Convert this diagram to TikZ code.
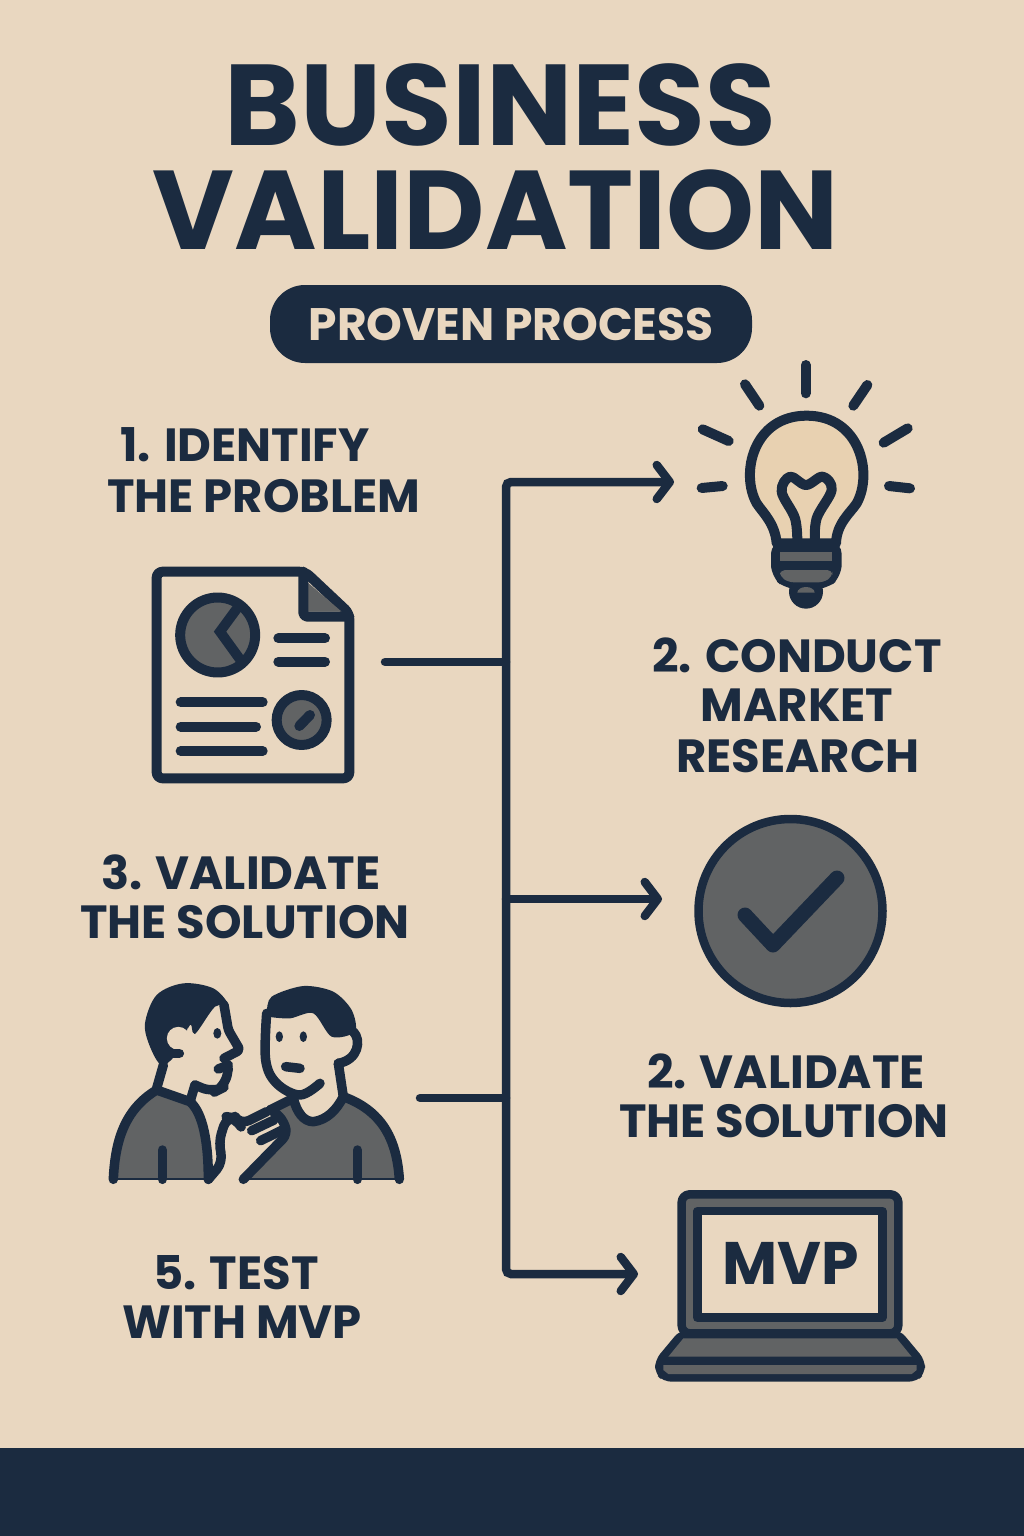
\documentclass[tikz,border=0pt]{standalone}
\usepackage{fontspec}
\setmainfont{Poppins}
\usetikzlibrary{arrows.meta}
\definecolor{paper}{HTML}{E9D7C0}
\definecolor{ink}{HTML}{1B2B40}
\definecolor{slate}{HTML}{616364}
\definecolor{glow}{HTML}{E8D1B1}
\tikzset{
  flow/.style={draw=ink,line width=8.5pt,rounded corners=5pt},
  branch/.style={draw=ink,line width=8.5pt,line cap=round},
  tipped/.style={-{Straight Barb[length=13pt,width=34pt,line width=8.5pt,round]}},
  iconbox/.style={inner sep=0pt,outer sep=0pt,draw=none,fill=none},
  lbl/.style={text=ink,inner sep=0pt,font=\fontsize{46.5}{46.5}\selectfont\bfseries},
  ttl/.style={text=ink,inner sep=0pt,font=\fontsize{115}{115}\selectfont\bfseries},
  ic/.style={draw=ink,line width=10pt,line cap=round,line join=round},
  thin/.style={draw=ink,line width=9.5pt,line cap=round,line join=round},
  frameline/.style={draw=ink,line width=8.5pt,line join=round},
  zoomed/.style={x=0.33333pt,y=-0.33333pt}
}
\begin{document}
\begin{tikzpicture}[x=1pt,y=-1pt]
\useasboundingbox (0,0) rectangle (1024,1536);
\fill[paper] (0,0) rectangle (1024,1536);
\fill[ink] (0,1448) rectangle (1024,1536);

% title
\node[ttl] (title1) at (500.5,105) {BUSINESS};
\node[ttl,font=\fontsize{112}{112}\selectfont\bfseries] (title2) at (496,210) {VALIDATION};
\node[fill=ink,rounded corners=35pt,minimum width=482pt,minimum height=78pt,inner sep=0pt,text=paper,font=\fontsize{45.5}{45.5}\selectfont\bfseries] (pill) at (511,324) {PROVEN PROCESS};

% labels
\node[lbl] (l1a) at (245,445) {1. IDENTIFY};
\node[lbl] (l1b) at (264,496) {THE PROBLEM};
\node[lbl] (l2a) at (797,655) {2. CONDUCT};
\node[lbl] (l2b) at (797,705) {MARKET};
\node[lbl] (l2c) at (798,756) {RESEARCH};
\node[lbl] (l3a) at (241,872) {3. VALIDATE};
\node[lbl] (l3b) at (245,922) {THE SOLUTION};
\node[lbl] (l4a) at (786,1071) {2. VALIDATE};
\node[lbl] (l4b) at (784,1121) {THE SOLUTION};
\node[lbl] (l5a) at (236,1273) {5. TEST};
\node[lbl] (l5b) at (242,1322) {WITH MVP};

% invisible icon frames that the connectors attach to
\node[iconbox,minimum width=266pt,minimum height=250pt] (bulb) at (807,482) {};
\node[iconbox,minimum width=255pt,minimum height=224pt] (doc) at (257.5,662) {};
\node[iconbox,minimum width=256pt,minimum height=200pt] (check) at (790,899) {};
\node[iconbox,minimum width=320pt,minimum height=200pt] (people) at (260,1098) {};
\node[iconbox,minimum width=304pt,minimum height=200pt] (laptop) at (790,1274) {};
\coordinate (trunk) at (506,899);

% connectors
\draw[flow,tipped] (trunk) |- (bulb.west);
\draw[flow,tipped] (trunk) |- (laptop.west);
\draw[branch,tipped] (trunk) -- (check.west);
\draw[branch] (doc.east) -- (doc.east -| trunk);
\draw[branch] (people.east) -- (people.east -| trunk);

% document icon
\begin{scope}[shift={(130,550)},zoomed]
  \draw[ic,rounded corners=6pt] (525,65) -- (80,65) -- (80,685) -- (658,685) -- (658,190) -- cycle;
  \fill[slate] (530,95) -- (530,185) -- (635,185) -- cycle;
  \draw[ic,rounded corners=4pt] (520,65) -- (520,200) -- (658,200);
  \filldraw[ic,fill=slate] (263,255) circle[radius=37.5pt];
  \draw[ic,line cap=butt,line join=miter] (325,170) -- (270,245) -- (335,335);
  \draw[ic] (445,265) -- (585,265);
  \draw[ic] (445,335) -- (585,335);
  \draw[ic] (152,457) -- (398,457);
  \draw[ic] (152,530) -- (378,530);
  \draw[ic] (152,603) -- (398,603);
  \filldraw[ic,fill=slate] (515,510) circle[radius=25pt];
  \draw[ic] (508,528) -- (540,495);
\end{scope}

% bulb icon
\begin{scope}[shift={(680,350)},zoomed]
  \foreach \xa/\ya/\xb/\yb in {377/45/377/130,195/103/238/167,562/105/520/167,68/238/146/273,683/235/611/278,65/414/128/408,627/408/690/415}
    \draw[ic] (\xa,\ya) -- (\xb,\yb);
  \filldraw[ic,fill=glow] (290,580) .. controls (285,520) and (250,490) .. (230,460)
     .. controls (180,370) and (220,197) .. (380,197)
     .. controls (540,197) and (580,370) .. (530,460)
     .. controls (510,490) and (470,520) .. (468,580) -- cycle;
  \draw[ic] plot[smooth,tension=0.6] coordinates {(352,580) (345,505) (305,425) (330,380) (378,405) (428,380) (455,420) (410,505) (405,580)};
  \fill[ink] (378,725) circle[radius=17pt];
  \fill[ink,rounded corners=12pt] (273,575) -- (485,575) -- (485,680) -- (440,718) -- (318,718) -- (273,680) -- cycle;
  \fill[slate] (300,605) rectangle (457,632);
  \fill[slate,rounded corners=5pt] (300,660) -- (457,660) -- (457,680) -- (430,697) -- (327,697) -- (300,680) -- cycle;
  \fill[slate] (352,728) arc[start angle=180,end angle=360,x radius=26,y radius=17] -- cycle;
\end{scope}

% check icon
\filldraw[frameline,fill=slate] (790.5,911) circle[radius=92pt];
\draw[ink,line width=15pt,line cap=round,line join=round] (745,915) -- (773,945) -- (837,878);

% people icon
\begin{scope}[shift={(100,970)},zoomed]
  % left person
  \fill[slate] (40,628) .. controls (45,520) and (70,420) .. (170,360) -- (270,395) .. controls (310,430) and (325,520) .. (325,628) -- cycle;
  \draw[thin] (40,628) .. controls (45,520) and (70,420) .. (170,360) -- (270,395) .. controls (310,430) and (325,520) .. (325,628);
  \draw[ink,line width=2pt] (40,628) -- (325,628);
  \draw[thin] (187,540) -- (187,628);
  \draw[thin] (190,285) -- (170,355);
  \draw[thin] (285,345) -- (270,395);
  \draw[thin,rounded corners=3pt] (372,105) -- (385,180) -- (420,240) -- (372,265);
  \draw[thin,rounded corners=5pt] (355,297) -- (385,285);
  \draw[thin,rounded corners=12pt] (385,295) -- (375,350) -- (340,368) -- (285,345);
  \fill[ink] plot[smooth cycle,tension=0.55] coordinates {(385,105) (340,55) (250,40) (170,75) (135,160) (150,230) (185,285) (230,250) (270,165) (285,192) (345,110)};
  \fill[paper] (235,205) circle[radius=11.5pt];
  \fill[paper] (262,215) -- (262,175) -- (300,205) -- (280,250) -- cycle;
  \draw[thin] (215,250) -- (238,250);
  \fill[ink] (352,190) ellipse[x radius=12,y radius=16];
  % right person
  \fill[slate] (430,628) -- (560,495) -- (540,435) -- (510,420) -- (580,385) .. controls (590,425) and (610,455) .. (640,455) .. controls (680,450) and (710,420) .. (730,380)
     .. controls (840,420) and (890,500) .. (898,628) -- cycle;
  \draw[thin,rounded corners=8pt] (430,628) -- (565,490) -- (540,435) -- (510,420);
  \draw[thin] (510,420) -- (580,385) .. controls (590,425) and (610,455) .. (640,455) .. controls (680,450) and (710,420) .. (730,380)
     .. controls (840,420) and (890,500) .. (898,628);
  \draw[ink,line width=2pt] (430,628) -- (898,628);
  \draw[thin] (772,540) -- (772,628);
  \draw[thin,rounded corners=10pt] (325,628) -- (370,575) -- (355,520) -- (380,440) -- (408,445) -- (420,465) -- (500,425);
  \draw[thin] (455,482) -- (522,450);
  \draw[thin] (482,512) -- (547,480);
  \draw[thin] plot[smooth,tension=0.6] coordinates {(500,130) (497,270) (530,340) (600,375) (660,340)};
  \draw[thin] (715,280) -- (730,380);
  \fill[ink] plot[smooth cycle,tension=0.5] coordinates {(500,130) (515,80) (610,48) (700,65) (755,120) (765,185) (695,200) (640,130) (570,145) (505,140)};
  \draw[thin] (760,185) .. controls (785,210) and (775,270) .. (715,280);
  \fill[ink] (538,200) ellipse[x radius=11,y radius=16];
  \fill[ink] (610,200) ellipse[x radius=11,y radius=16];
  \draw[thin] (557,290) -- (600,295);
\end{scope}

% laptop icon
\begin{scope}[shift={(640,1180)},zoomed]
  \filldraw[frameline,fill=slate,rounded corners=8pt] (125,43) rectangle (775,460);
  \filldraw[frameline,fill=paper] (172,93) rectangle (727,413);
  \node[text=ink,inner sep=0pt,font=\fontsize{60}{60}\selectfont\bfseries] (mvp) at (452,250) {MVP};
  \fill[ink,rounded corners=8pt] (120,450) -- (780,450) -- (855,540) -- (855,580) -- (830,605) -- (70,605) -- (45,580) -- (45,540) -- cycle;
  \fill[slate] (130,475) -- (770,475) -- (815,530) -- (85,530) -- cycle;
  \fill[slate] (70,555) -- (830,555) -- (830,570) -- (815,582) -- (85,582) -- (70,570) -- cycle;
\end{scope}
\end{tikzpicture}
\end{document}
